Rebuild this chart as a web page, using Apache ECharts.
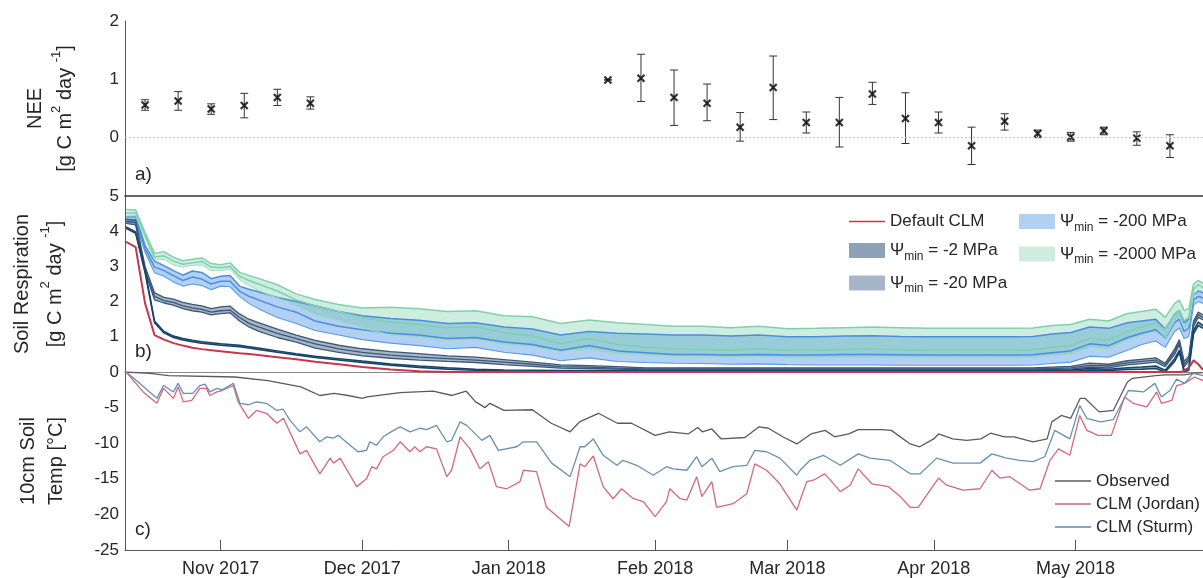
<!DOCTYPE html>
<html><head><meta charset="utf-8">
<script src="https://cdn.jsdelivr.net/npm/echarts@6/dist/echarts.min.js"></script>
<style>html,body{margin:0;padding:0;background:#fff}#c{width:1203px;height:578px}</style>
</head><body><div id="c"></div>
<script>
// ---------- DATA (x values are days since 12 Oct 2017) ----------
const START = '2017-10-12';
const X_MIN = -0.25, X_MAX = 228;
const monthTicks = ['2017-11-01','2017-12-01','2018-01-01','2018-02-01','2018-03-01','2018-04-01','2018-05-01'];
const monthLabels = ['Nov 2017','Dec 2017','Jan 2018','Feb 2018','Mar 2018','Apr 2018','May 2018'];

// a) NEE (weekly) with error bars
const neeDays = [4,11,18,25,32,39,102,109,116,123,130,137,144,151,158,165,172,179,186,193,200,207,214,221];
const neeMean = [0.56,0.63,0.49,0.55,0.69,0.59,0.99,1.02,0.69,0.59,0.18,0.86,0.26,0.26,0.75,0.33,0.26,-0.14,0.28,0.07,0.01,0.12,-0.01,-0.14];
const neeLow  = [0.47,0.47,0.40,0.34,0.55,0.49,0.99,0.62,0.21,0.29,-0.06,0.31,0.08,-0.16,0.57,-0.10,0.08,-0.46,0.13,0.00,-0.06,0.05,-0.13,-0.34];
const neeHigh = [0.65,0.79,0.58,0.76,0.83,0.70,0.99,1.43,1.16,0.92,0.43,1.40,0.44,0.69,0.95,0.77,0.44,0.18,0.41,0.13,0.09,0.18,0.10,0.05];

// b) Soil respiration
const respDays = [0,2,4,6,8,10,12,14,16,18,20,22,24,26,28,32,36,40,45,50,56,62,68,74,80,86,92,98,104,110,116,122,128,134,140,146,152,158,164,170,176,182,188,192,196,200,204,208,212,215,218,220,222,223,224,225,226,227,228];
const respDefault = [3.70,3.55,1.95,1.05,0.92,0.82,0.75,0.69,0.65,0.62,0.59,0.56,0.53,0.51,0.48,0.42,0.36,0.29,0.22,0.14,0.07,0.02,0,0,0,0,0,0,0,0,0,0,0,0,0,0,0,0,0,0,0,0,0,0,0,0,0,0,0,0,0,0,0,0,0.02,0.12,0.33,0.22,0.06];
const psi2Hi = [4.12,3.98,2.90,1.45,1.15,1.02,0.95,0.90,0.86,0.83,0.80,0.78,0.76,0.72,0.68,0.60,0.52,0.45,0.38,0.31,0.23,0.17,0.12,0.08,0.06,0.05,0.04,0.04,0.04,0.04,0.04,0.04,0.04,0.04,0.04,0.04,0.04,0.04,0.04,0.04,0.04,0.04,0.04,0.04,0.05,0.06,0.10,0.08,0.12,0.14,0.17,0.05,0.38,0.62,0.05,0.12,1.18,1.42,1.32];
const psi2Lo = [4.08,3.94,2.82,1.40,1.11,0.98,0.91,0.86,0.82,0.79,0.76,0.74,0.72,0.68,0.64,0.56,0.48,0.41,0.34,0.27,0.19,0.13,0.08,0.05,0.03,0.02,0.01,0.01,0.01,0.01,0.01,0.01,0.01,0.01,0.01,0.01,0.01,0.01,0.01,0.01,0.01,0.01,0.01,0.01,0.02,0.02,0.05,0.04,0.07,0.08,0.10,0.00,0.30,0.55,0.00,0.05,1.08,1.32,1.24];
const psi20Hi = [4.34,4.30,3.00,2.25,2.12,2.07,1.98,1.92,1.88,1.80,1.85,1.87,1.65,1.50,1.40,1.22,1.05,0.90,0.76,0.66,0.58,0.52,0.46,0.42,0.35,0.28,0.20,0.18,0.15,0.12,0.12,0.12,0.12,0.12,0.12,0.12,0.12,0.12,0.12,0.12,0.12,0.12,0.12,0.12,0.14,0.16,0.25,0.22,0.32,0.36,0.40,0.25,0.65,0.92,0.30,0.45,1.45,1.70,1.62];
const psi20Mid = [4.28,4.24,2.92,2.15,2.03,1.98,1.88,1.82,1.78,1.70,1.74,1.76,1.55,1.38,1.28,1.10,0.95,0.80,0.66,0.56,0.48,0.42,0.38,0.34,0.28,0.22,0.15,0.14,0.11,0.09,0.09,0.09,0.09,0.09,0.09,0.09,0.09,0.09,0.09,0.09,0.09,0.09,0.09,0.09,0.10,0.12,0.19,0.17,0.26,0.30,0.34,0.20,0.58,0.85,0.22,0.38,1.38,1.63,1.55];
const psi20Lo = [4.22,4.18,2.85,2.05,1.96,1.90,1.80,1.74,1.70,1.62,1.66,1.68,1.45,1.28,1.16,0.98,0.85,0.68,0.56,0.46,0.39,0.34,0.30,0.27,0.21,0.16,0.11,0.10,0.08,0.06,0.06,0.06,0.06,0.06,0.06,0.06,0.06,0.06,0.06,0.06,0.06,0.06,0.06,0.06,0.07,0.08,0.14,0.12,0.20,0.24,0.28,0.15,0.50,0.78,0.15,0.30,1.30,1.55,1.48];
const psi200Hi = [4.41,4.42,3.60,3.15,3.02,2.88,2.75,2.87,2.83,2.65,2.72,2.74,2.44,2.35,2.28,2.12,2.00,1.88,1.72,1.60,1.52,1.47,1.38,1.40,1.28,1.22,1.05,1.15,1.10,1.08,1.05,1.05,1.02,1.05,1.00,1.00,1.02,1.03,1.01,1.00,1.00,1.00,1.00,1.01,1.08,1.12,1.28,1.24,1.40,1.45,1.50,1.22,1.65,1.75,1.40,1.50,2.20,2.30,2.25];
const psi200Mid = [4.33,4.33,3.50,2.98,2.88,2.74,2.60,2.70,2.64,2.50,2.58,2.58,2.30,2.15,2.05,1.85,1.70,1.45,1.30,1.20,1.10,1.05,0.95,0.98,0.85,0.78,0.62,0.75,0.60,0.55,0.50,0.50,0.48,0.50,0.48,0.48,0.50,0.50,0.49,0.48,0.48,0.48,0.48,0.49,0.55,0.60,0.80,0.75,0.98,1.10,1.20,0.95,1.40,1.50,1.15,1.25,2.05,2.15,2.10];
const psi200Lo = [4.24,4.24,3.40,2.82,2.72,2.56,2.44,2.50,2.46,2.34,2.44,2.42,2.15,1.95,1.80,1.55,1.38,1.18,1.05,0.92,0.82,0.75,0.66,0.70,0.56,0.48,0.32,0.40,0.30,0.27,0.25,0.24,0.22,0.23,0.21,0.20,0.20,0.20,0.19,0.19,0.19,0.19,0.19,0.20,0.24,0.28,0.45,0.42,0.62,0.78,0.88,0.70,1.15,1.25,0.95,1.00,1.90,2.00,1.95];
const psi2000Hi = [4.62,4.60,3.96,3.37,3.42,3.26,3.16,3.20,3.24,3.08,3.05,3.10,2.83,2.74,2.66,2.48,2.22,2.06,1.92,1.82,1.84,1.80,1.72,1.74,1.60,1.57,1.38,1.48,1.40,1.35,1.30,1.30,1.26,1.30,1.23,1.24,1.26,1.28,1.26,1.24,1.24,1.24,1.24,1.25,1.32,1.35,1.50,1.45,1.66,1.72,1.78,1.55,1.95,2.04,1.75,1.80,2.50,2.60,2.52];
const psi2000Mid = [4.52,4.52,3.88,3.27,3.30,3.15,3.06,3.10,3.14,2.98,2.96,3.00,2.72,2.60,2.50,2.30,2.05,1.88,1.72,1.55,1.42,1.35,1.26,1.28,1.12,1.02,0.80,0.95,0.78,0.70,0.65,0.64,0.62,0.66,0.62,0.62,0.64,0.65,0.63,0.62,0.62,0.62,0.62,0.63,0.70,0.75,0.95,0.90,1.15,1.28,1.40,1.20,1.65,1.75,1.45,1.55,2.35,2.48,2.40];
const psi2000Lo = [4.43,4.44,3.80,3.18,3.20,3.04,2.98,3.03,3.04,2.88,2.88,2.92,2.62,2.45,2.32,2.10,1.88,1.62,1.45,1.25,1.05,0.98,0.90,0.92,0.78,0.72,0.58,0.64,0.52,0.48,0.44,0.43,0.42,0.44,0.40,0.40,0.41,0.42,0.41,0.40,0.40,0.40,0.40,0.41,0.46,0.50,0.70,0.66,0.90,1.05,1.15,0.95,1.45,1.55,1.25,1.35,2.20,2.35,2.28];

// c) 10 cm soil temperature
const obsDays = [0,5,9,23,30,37,41,44,47,50,51,58,65,69,72,74,76,77,80,86,90,94,96,100,104,107,112,115,119,121,122,124,126,131,134,136,139,142,145,148,150,153,155,160,162,166,168,171,172,175,178,181,183,186,188,192,195,196,198,200,202,203,206,209,212,213,218,220,224,226,228];
const obsTemp = [0,-0.2,-0.5,-0.7,-1.2,-2.1,-3.3,-3.0,-3.3,-3.7,-3.5,-2.9,-2.7,-3.3,-2.7,-4.2,-5.0,-4.4,-5.4,-5.3,-7.2,-8.4,-7.0,-5.8,-7.2,-7.2,-8.9,-8.4,-8.7,-7.8,-8.4,-8.0,-9.4,-9.2,-7.7,-7.9,-9.1,-10.1,-8.7,-8.2,-9.1,-8.7,-8.1,-8.1,-8.2,-10.1,-10.5,-9.4,-8.7,-9.4,-9.6,-9.4,-8.6,-9.1,-9.1,-9.8,-9.4,-7.0,-6.1,-6.5,-3.7,-3.7,-5.6,-5.4,-1.4,-0.9,-0.5,-0.4,-0.4,-0.2,-0.1];
const jordanDays = [0,3.6,6.5,7.9,10,11,12.1,13.9,15.6,17,17.7,19.2,20.3,22.7,23.7,25.9,27.6,29.7,31.9,33.3,36.8,38.2,41,43.2,43.9,45.3,48.8,50.9,52,53,54.4,56.6,58,60.1,61.1,62.2,63.6,65.7,67.9,68.9,70.7,72.8,74.9,76.7,78.4,80.6,83.4,84.1,86.9,89,91.1,93.8,96.1,97.1,98.9,101,103.1,104.9,107.4,109.5,112,114.4,115.1,117.3,118.7,120.8,121.9,124,125,128.5,131.4,133.1,135.6,138.4,142,142.7,144.1,145.5,147.9,149.4,151.2,153.3,155,157.9,161.4,163.9,166,167.7,172,173.7,177.2,180.8,183.3,185,187.1,191.3,193.5,195.6,197.4,199.8,201.9,203.4,205.8,208.6,211.4,213.2,216.1,218.2,219.2,221.4,222.4,224.1,226.2,228];
const jordanTemp = [0,-2.8,-4.4,-2.3,-3.7,-2.1,-4.2,-4.0,-2.3,-2.3,-3.3,-2.8,-2.6,-1.9,-4.2,-6.5,-5.4,-5.8,-7.2,-6.5,-11.5,-11.0,-14.3,-12.1,-12.8,-12.1,-16.1,-15.0,-13.3,-13.6,-11.9,-11.0,-9.8,-11.2,-10.5,-11.2,-10.5,-10.8,-14.7,-13.8,-9.1,-10.8,-13.6,-12.6,-16.1,-16.4,-15.4,-13.8,-14.0,-19.0,-20.2,-21.7,-12.9,-13.3,-11.8,-16.1,-17.8,-16.4,-17.8,-18.2,-20.3,-18.2,-16.4,-17.8,-18.0,-14.7,-17.5,-15.4,-19.0,-18.5,-17.1,-12.9,-13.8,-15.7,-19.4,-18.0,-15.4,-15.2,-14.3,-15.4,-16.8,-15.9,-13.6,-15.7,-16.1,-17.5,-19.0,-19.0,-14.9,-15.9,-16.6,-16.4,-13.8,-14.9,-14.7,-16.6,-16.4,-12.4,-10.8,-11.7,-6.1,-8.2,-8.9,-8.9,-3.5,-4.4,-4.9,-2.8,-4.4,-4.0,-1.9,-1.6,-0.7,-1.2];
const sturmDays = [0,2.9,6.5,7.9,10,11,12.1,14.1,15.6,16.7,17.7,19.2,20.3,22.7,24.1,25.9,27.6,29.7,31.9,33.2,34.7,36.8,38.2,41,42.5,43.8,44.9,47.4,49.1,50.9,51.6,53,54.4,56.6,58,60.1,62.2,63.6,65.7,67.9,68.9,70.7,72.1,75.3,77,78.8,82.7,84.1,86.9,90.1,94,96.1,97.1,98.9,101,103.9,105.2,108.1,111.6,114.4,115.8,118.7,120.8,121.9,124,125.7,128.5,131.4,133.1,135.6,138.4,142,142.7,144.8,147.6,151.2,155,157.5,161.7,166,168.1,171.6,175.1,180.8,183.3,186.4,189.2,192,194.5,196.6,199.8,201.9,203.4,206.3,209,212.2,215.4,217.8,219.2,221,222.4,224.1,225.9,228];
const sturmTemp = [0,-1.6,-3.7,-1.9,-2.8,-1.6,-3.0,-3.0,-1.9,-1.7,-2.8,-2.3,-2.5,-1.6,-4.4,-4.6,-4.2,-4.4,-5.4,-5.2,-6.8,-8.4,-7.7,-9.8,-9.1,-9.3,-8.9,-10.3,-11.2,-11.0,-9.8,-10.3,-9.1,-8.2,-7.7,-8.4,-7.9,-8.1,-7.5,-9.8,-9.6,-7.0,-7.5,-9.6,-8.9,-11.0,-10.5,-9.8,-9.8,-12.8,-14.7,-10.5,-10.5,-9.4,-11.7,-13.1,-12.4,-13.1,-14.5,-13.3,-13.6,-13.8,-11.9,-13.3,-12.1,-14.0,-13.3,-13.1,-11.0,-11.2,-12.1,-14.5,-13.8,-12.4,-11.7,-13.1,-11.5,-12.1,-12.4,-14.3,-14.3,-12.1,-12.8,-12.8,-11.5,-12.1,-12.4,-12.6,-11.9,-8.2,-9.4,-4.7,-6.5,-7.0,-6.7,-2.6,-2.8,-1.6,-3.5,-2.6,-1.0,-1.6,-0.2,-0.5];

// ---------- CHART ----------
const FONT = 'Liberation Sans, Arial, Helvetica, sans-serif';
const TXT = '#262626';
const DAY = 86400000;
const T0 = Date.parse(START);
const dayOf = s => Math.round((Date.parse(s) - T0) / DAY);
const tickDays = monthTicks.map(dayOf);
const pairs = (d, v) => d.map((x, i) => [x, v[i]]);
// panel b uses a time axis (so that band stacking works on y); same span as the day axes
const toTime = d => T0 + d * DAY;
const pairsT = (d, v) => d.map((x, i) => [toTime(x), v[i]]);

const chart = echarts.init(document.getElementById('c'), null, {renderer: 'canvas'});

function xAx(gi, showLabels, lineColor, lw) {
  return {
    type: 'value', gridIndex: gi, min: X_MIN, max: X_MAX,
    splitLine: {show: false},
    axisLine: {show: true, onZero: false, lineStyle: {color: lineColor, width: lw}},
    axisTick: showLabels ? {show: true, inside: true, length: 10, customValues: tickDays, lineStyle: {color: '#555'}} : {show: false},
    axisLabel: showLabels ? {show: true, customValues: tickDays, margin: 10, fontSize: 18, color: TXT, fontFamily: FONT,
      formatter: v => monthLabels[tickDays.indexOf(Math.round(v))] || ''} : {show: false}
  };
}
const xAxB = {
  type: 'time', gridIndex: 1, min: toTime(X_MIN), max: toTime(X_MAX),
  splitLine: {show: false}, axisTick: {show: false}, axisLabel: {show: false},
  axisLine: {show: true, onZero: false, lineStyle: {color: '#888', width: 1}}
};
const supRich = (fs, lh) => ({
  t: {fontSize: fs, lineHeight: lh, color: TXT, fontFamily: FONT},
  u: {fontSize: 13, lineHeight: 13, verticalAlign: 'top', color: TXT, fontFamily: FONT}
});
function yAx(gi, min, max, interval, hide, name, gap, lh) {
  return {
    type: 'value', gridIndex: gi, min, max, interval,
    splitLine: {show: false}, axisTick: {show: false},
    axisLine: {show: true, onZero: false, lineStyle: {color: '#555'}},
    axisLabel: {fontSize: 17, color: TXT, fontFamily: FONT, margin: 6, formatter: v => (v === hide ? '' : String(v))},
    name, nameLocation: 'middle', nameRotate: 90, nameGap: gap, nameMoveOverlap: false,
    nameTextStyle: {rich: supRich(20, lh)}
  };
}

const GB = {xAxisIndex: 1, yAxisIndex: 1};
function bandB(name, lo, hi, color, opacity) {
  return [
    {type: 'line', name: name + ' base', stack: name, data: pairsT(respDays, lo), ...GB, symbol: 'none',
      lineStyle: {width: 0, opacity: 0}, silent: true},
    {type: 'line', name, stack: name, data: respDays.map((d, i) => [toTime(d), +(hi[i] - lo[i]).toFixed(3)]), ...GB, symbol: 'none',
      lineStyle: {width: 0, opacity: 0}, areaStyle: {color, opacity}, itemStyle: {color}, silent: true}
  ];
}
function lineB(name, vals, color, width) {
  return {type: 'line', name, data: pairsT(respDays, vals), ...GB, symbol: 'none', silent: true,
    lineStyle: {color, width}, itemStyle: {color}};
}
function lineC(name, days, vals, color) {
  return {type: 'line', name, data: pairs(days, vals), xAxisIndex: 2, yAxisIndex: 2, symbol: 'none', silent: true,
    lineStyle: {color, width: 1.3}, itemStyle: {color}};
}

const legendRich = {
  t: {fontSize: 17, lineHeight: 24, color: TXT, fontFamily: FONT},
  s: {fontSize: 12, lineHeight: 12, verticalAlign: 'bottom', color: TXT, fontFamily: FONT}
};
const legendFmt = n => n.startsWith('Ψmin') ? '{t|Ψ}{s|min}{t|' + n.slice(4) + '}' : '{t|' + n + '}';
const swatch = (name, color) => ({name, icon: 'rect', itemStyle: {color, borderWidth: 0}});
const LINE_ICON = 'path://M0,0L40,0L40,1.5L0,1.5Z';
const lineItem = (name, color) => ({name, icon: LINE_ICON, itemStyle: {color, borderWidth: 0}});

const option = {
  animation: false,
  backgroundColor: '#fff',
  textStyle: {fontFamily: FONT},
  grid: [
    {left: 125, right: 0, top: 21, height: 175, outerBoundsMode: 'none'},
    {left: 125, right: 0, top: 196, height: 176, outerBoundsMode: 'none'},
    {left: 125, right: 0, top: 372, height: 178, outerBoundsMode: 'none'}
  ],
  xAxis: [xAx(0, false, '#333', 1.6), xAxB, xAx(2, true, '#555', 1)],
  yAxis: [
    yAx(0, -1, 2, 1, -1, '{t|NEE}\n{t|[g C m}{u|2}{t| day }{u|-1}{t|]}', 45, 30),
    yAx(1, 0, 5, 1, null, '{t|Soil Respiration}\n{t|[g C m}{u|2}{t| day }{u|-1}{t|]}', 53, 33),
    yAx(2, -25, 0, 5, 0, '{t|10cm Soil}\n{t|Temp [°C]}', 55, 28)
  ],
  legend: [
    {orient: 'vertical', left: 849, top: 213, padding: 0, itemWidth: 36, itemHeight: 15, itemGap: 12, selectedMode: false,
      formatter: legendFmt, textStyle: {rich: legendRich},
      data: [lineItem('Default CLM', '#c8364f'),
             swatch('Ψmin = -2 MPa', '#8ea2b7'), swatch('Ψmin = -20 MPa', '#a7b5c8')]},
    {orient: 'vertical', left: 1019, top: 213, padding: 0, itemWidth: 36, itemHeight: 15, itemGap: 12, selectedMode: false,
      formatter: legendFmt, textStyle: {rich: legendRich},
      data: [swatch('Ψmin = -200 MPa', '#b2d0f3'), swatch('Ψmin = -2000 MPa', '#ceecdf')]},
    {orient: 'vertical', left: 1055, top: 471, padding: 0, itemWidth: 36, itemHeight: 12, itemGap: 3, selectedMode: false,
      textStyle: {fontSize: 17, color: TXT, fontFamily: FONT, lineHeight: 20},
      data: [lineItem('Observed', '#5a5a5a'), lineItem('CLM (Jordan)', '#d3687f'), lineItem('CLM (Sturm)', '#5f8bb0')]}
  ],
  graphic: [
    {type: 'text', left: 135, top: 165, style: {text: 'a)', font: '19px ' + FONT, fill: TXT}},
    {type: 'text', left: 135, top: 342, style: {text: 'b)', font: '19px ' + FONT, fill: TXT}},
    {type: 'text', left: 135, top: 520, style: {text: 'c)', font: '19px ' + FONT, fill: TXT}}
  ],
  series: [
    // a) error bars
    {type: 'custom', name: 'NEE err', xAxisIndex: 0, yAxisIndex: 0, silent: true,
      data: neeDays.map((d, i) => [d, neeLow[i], neeHigh[i]]),
      encode: {x: 0, y: [1, 2]},
      renderItem: (p, api) => {
        const x = api.value(0), lo = api.coord([x, api.value(1)]), hi = api.coord([x, api.value(2)]);
        const w = 4, st = {stroke: '#333', lineWidth: 1};
        return {type: 'group', children: [
          {type: 'line', shape: {x1: lo[0], y1: lo[1], x2: hi[0], y2: hi[1]}, style: st},
          {type: 'line', shape: {x1: lo[0] - w, y1: lo[1], x2: lo[0] + w, y2: lo[1]}, style: st},
          {type: 'line', shape: {x1: hi[0] - w, y1: hi[1], x2: hi[0] + w, y2: hi[1]}, style: st}
        ]};
      }},
    {type: 'scatter', name: 'NEE', xAxisIndex: 0, yAxisIndex: 0, silent: true,
      data: pairs(neeDays, neeMean), symbol: 'path://M0,0L10,10M10,0L0,10', symbolSize: 7,
      itemStyle: {color: 'transparent', borderColor: '#000', borderWidth: 2.2},
      markLine: {silent: true, symbol: ['none', 'none'], label: {show: false},
        lineStyle: {type: [2, 2], color: '#c4c4c4', width: 1}, data: [{yAxis: 0}]}},
    // b) bands (blue first, green blended on top -> teal overlap)
    ...bandB('Ψmin = -200 MPa', psi200Lo, psi200Hi, '#3f8ae0', 0.4),
    ...bandB('Ψmin = -2000 MPa', psi2000Lo, psi2000Hi, '#5cc29a', 0.3),
    ...bandB('Ψmin = -20 MPa', psi20Lo, psi20Hi, '#3b5b85', 0.45),
    ...bandB('Ψmin = -2 MPa', psi2Lo, psi2Hi, '#1c4670', 0.5),
    // b) lines
    lineB('b hi', psi200Hi, '#4a8fdc', 1.5), lineB('b mid', psi200Mid, '#4a8fdc', 1.5), lineB('b lo', psi200Lo, '#5b9be0', 1.1),
    lineB('g hi', psi2000Hi, '#80d0ab', 1.5), lineB('g mid', psi2000Mid, '#80d0ab', 1.5), lineB('g lo', psi2000Lo, '#9fdcc0', 1),
    lineB('s hi', psi20Hi, '#3a5878', 1.3), lineB('s mid', psi20Mid, '#3a5878', 1.3), lineB('s lo', psi20Lo, '#3a5878', 1.3),
    lineB('n hi', psi2Hi, '#174468', 1.5), lineB('n lo', psi2Lo, '#174468', 1.5),
    lineB('Default CLM', respDefault, '#c8364f', 2),
    // c) temperature
    lineC('Observed', obsDays, obsTemp, '#5a5a5a'),
    lineC('CLM (Jordan)', jordanDays, jordanTemp, '#d3687f'),
    lineC('CLM (Sturm)', sturmDays, sturmTemp, '#6690b3')
  ]
};
chart.setOption(option);
</script></body></html>
